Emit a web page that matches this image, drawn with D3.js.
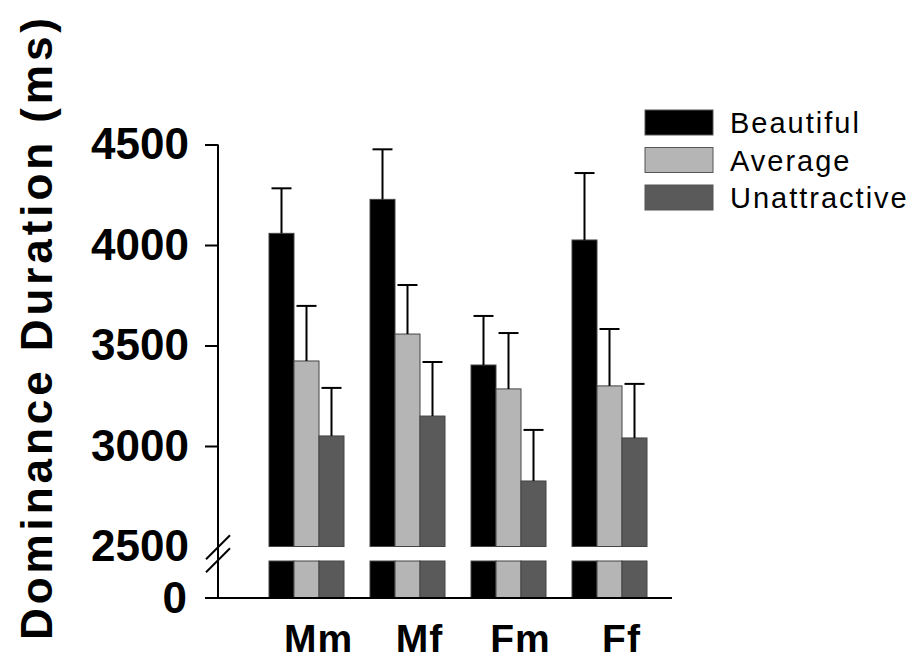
<!DOCTYPE html>
<html>
<head>
<meta charset="utf-8">
<script src="https://cdn.jsdelivr.net/npm/d3@7"></script>
<style>
  html, body { margin: 0; padding: 0; background: #fff; }
  svg { display: block; font-family: "Liberation Sans", Arial, sans-serif; }
</style>
</head>
<body>
<svg id="chart" width="918" height="661"></svg>
<script>
// ---- data ----
const categories = ["Mm", "Mf", "Fm", "Ff"];
const seriesNames = ["Beautiful", "Average", "Unattractive"];
const beautiful = [4058, 4227, 3403, 4025];
const average = [3423, 3557, 3284, 3299];
const unattractive = [3050, 3149, 2826, 3040];
const beautifulErr = [224, 249, 244, 333];
const averageErr = [274, 244, 278, 283];
const unattractiveErr = [239, 269, 254, 269];
const upperTicks = [2500, 3000, 3500, 4000, 4500];
const lowerTicks = [0];
const seriesColors = ["#000000", "#b5b5b5", "#5a5a5a"];

const values = [beautiful, average, unattractive];
const errors = [beautifulErr, averageErr, unattractiveErr];
const rows = [];
categories.forEach((c, i) => {
  seriesNames.forEach((s, j) => {
    rows.push({cat: c, series: s, value: values[j][i], err: errors[j][i], color: seriesColors[j]});
  });
});

const svg = d3.select("#chart");

// ---- scales ----
const axisX = 218;
const yUp = d3.scaleLinear().domain([2500, 4500]).range([546.5, 144.5]);
const yLow = d3.scaleLinear().domain([0, 2500]).range([598, 561]);
const x0 = d3.scaleBand().domain(categories).range([256, 660])
  .paddingInner(26 / 101).paddingOuter(13 / 101);
const x1 = d3.scaleBand().domain(seriesNames).range([0, x0.bandwidth()]).padding(0);

// ---- bars (upper segment) ----
const g = svg.append("g");
g.selectAll("rect.up").data(rows).join("rect")
  .attr("class", "up")
  .attr("x", d => x0(d.cat) + x1(d.series))
  .attr("width", x1.bandwidth())
  .attr("y", d => yUp(d.value))
  .attr("height", d => yUp(2500) - yUp(d.value))
  .attr("fill", d => d.color)
  .attr("stroke", "#444").attr("stroke-width", 1);

// ---- bars (lower segment) ----
g.selectAll("rect.low").data(rows).join("rect")
  .attr("class", "low")
  .attr("x", d => x0(d.cat) + x1(d.series))
  .attr("width", x1.bandwidth())
  .attr("y", yLow(2500))
  .attr("height", yLow(0) - yLow(2500))
  .attr("fill", d => d.color)
  .attr("stroke", "#444").attr("stroke-width", 1);

// ---- error bars ----
const cx = d => x0(d.cat) + x1(d.series) + x1.bandwidth() / 2;
g.selectAll("line.ev").data(rows).join("line")
  .attr("x1", cx).attr("x2", cx)
  .attr("y1", d => yUp(d.value)).attr("y2", d => yUp(d.value + d.err))
  .attr("stroke", "#000").attr("stroke-width", 2);
g.selectAll("line.ec").data(rows).join("line")
  .attr("x1", d => cx(d) - 10).attr("x2", d => cx(d) + 10)
  .attr("y1", d => yUp(d.value + d.err)).attr("y2", d => yUp(d.value + d.err))
  .attr("stroke", "#000").attr("stroke-width", 2);

// ---- y axis ----
const yAxis = svg.append("g").attr("transform", `translate(${axisX},0)`)
  .call(d3.axisLeft(yUp).tickValues(upperTicks).tickSize(13).tickPadding(16).tickFormat(d3.format("d")));
yAxis.select(".domain").remove();
yAxis.selectAll(".tick line").attr("stroke", "#000").attr("stroke-width", 2)
  .filter(d => d === 2500).remove();
yAxis.selectAll(".tick text").attr("font-size", 44).attr("font-weight", "bold")
  .attr("font-family", "'Liberation Sans', Arial, sans-serif").attr("fill", "#000");

const yAxisLow = svg.append("g").attr("transform", `translate(${axisX},0)`)
  .call(d3.axisLeft(yLow).tickValues(lowerTicks).tickSize(0).tickPadding(31).tickFormat(d3.format("d")));
yAxisLow.select(".domain").remove();
yAxisLow.selectAll(".tick text").attr("font-size", 44).attr("font-weight", "bold")
  .attr("font-family", "'Liberation Sans', Arial, sans-serif").attr("fill", "#000");

// axis line continuous
svg.append("line")
  .attr("x1", axisX).attr("x2", axisX)
  .attr("y1", yUp(4500)).attr("y2", yLow(0))
  .attr("stroke", "#000").attr("stroke-width", 2);

// baseline
svg.append("line")
  .attr("x1", axisX - 13).attr("x2", 672)
  .attr("y1", yLow(0)).attr("y2", yLow(0))
  .attr("stroke", "#000").attr("stroke-width", 2);

// break marks
const midBreak = (yUp(2500) + yLow(2500)) / 2;
[-6.5, 6.5].forEach(off => {
  svg.append("line")
    .attr("x1", axisX - 12).attr("y1", midBreak + off + 12)
    .attr("x2", axisX + 12).attr("y2", midBreak + off - 12)
    .attr("stroke", "#000").attr("stroke-width", 2);
});

// ---- x labels ----
svg.selectAll("text.xl").data(categories).join("text")
  .attr("class", "xl")
  .attr("x", d => x0(d) + x0.bandwidth() / 2 + 12)
  .attr("y", 652)
  .attr("text-anchor", "middle")
  .attr("font-size", 39).attr("font-weight", "bold")
  .attr("letter-spacing", 1)
  .text(d => d);

// ---- y label ----
svg.append("text")
  .attr("transform", "translate(52,329) rotate(-90)")
  .attr("text-anchor", "middle")
  .attr("font-size", 44).attr("font-weight", "bold")
  .attr("textLength", 622).attr("lengthAdjust", "spacing")
  .text("Dominance Duration (ms)");

// ---- legend ----
const legend = svg.append("g");
seriesNames.forEach((s, j) => {
  const yy = 110 + j * 37.5;
  legend.append("rect")
    .attr("x", 645).attr("y", yy).attr("width", 68).attr("height", 25)
    .attr("fill", seriesColors[j]).attr("stroke", "#555").attr("stroke-width", 1);
  legend.append("text")
    .attr("x", 730).attr("y", yy + 23)
    .attr("font-size", 29).attr("letter-spacing", 2)
    .text(s);
});
</script>
</body>
</html>
